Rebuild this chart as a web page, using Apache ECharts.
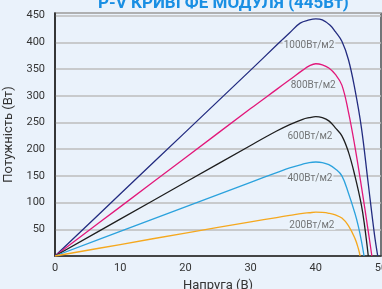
<!DOCTYPE html>
<html><head><meta charset="utf-8">
<script src="https://cdn.jsdelivr.net/npm/echarts@6/dist/echarts.min.js"></script>
<style>html,body{margin:0;padding:0;background:#EAF2FB;}#c{width:382px;height:289px;}</style>
</head><body><div id="c"></div>
<script>
var xTicks = [0, 10, 20, 30, 40, 50];
var yTicks = [50, 100, 150, 200, 250, 300, 350, 400, 450];
var names = ['1000Вт/м2', '800Вт/м2', '600Вт/м2', '400Вт/м2', '200Вт/м2'];
var colors = ['#232C80', '#E2187A', '#1E1E1E', '#2BA2DD', '#F5A81E'];

var v1000 = [0, 10, 20, 30, 34, 36, 37.6, 39, 40, 41, 42.2, 43, 44, 45, 46, 47, 48, 49, 49.5];
var p1000 = [0, 116, 232, 348, 395, 418, 436, 442, 444, 442, 432, 420, 402, 368, 312, 240, 140, 40, 0];
var v800 = [0, 10, 20, 30, 34, 36, 38, 39, 40, 41, 42, 43, 44, 45, 46, 47, 48, 48.6];
var p800 = [0, 92, 184, 276, 312, 330, 348, 356, 360, 358, 352, 340, 320, 270, 205, 130, 50, 0];
var v600 = [0, 10, 20, 30, 34, 36, 38, 39, 40, 41, 42, 43, 44, 45, 46, 47, 47.5, 48.05];
var p600 = [0, 69, 138, 207, 234, 246, 256, 259, 261, 259, 253, 240, 225, 195, 150, 95, 55, 0];
var v400 = [0, 10, 20, 30, 34, 36, 38, 39, 40, 41, 42, 43, 44, 45, 46, 46.5, 47, 47.4];
var p400 = [0, 46, 92, 138, 156, 165, 172, 175, 176, 175, 171, 163, 150, 118, 80, 57, 28, 0];
var v200 = [0, 10, 20, 30, 34, 36, 38, 39, 40, 41, 42, 43, 44, 45, 46, 46.5, 46.8];
var p200 = [0, 21.5, 43, 64, 72, 76, 80, 81, 82, 81.5, 80, 77, 71, 57, 33, 15, 0];

var labelV = [38.96, 39.6, 39.1, 39.1, 39.4];
var labelP = [395, 319, 223, 146, 58];

function pairs(v, p) { return v.map(function (x, i) { return [x, p[i]]; }); }
var sets = [pairs(v1000, p1000), pairs(v800, p800), pairs(v600, p600), pairs(v400, p400), pairs(v200, p200)];

var series = sets.map(function (d, i) {
  return {
    type: 'line', data: d, smooth: 0.4, showSymbol: false, symbol: 'none',
    lineStyle: { color: colors[i], width: 1.3 }, z: 3
  };
});
series.push({
  type: 'scatter', symbolSize: 0, z: 4,
  data: labelV.map(function (x, i) { return { value: [x, labelP[i]], name: names[i] }; }),
  label: {
    show: true, position: 'inside', formatter: '{b}', color: '#555',
    fontFamily: 'Roboto', fontSize: 10, backgroundColor: '#EAF2FB', padding: [0, 1]
  }
});

var chart = echarts.init(document.getElementById('c'), null, { renderer: 'canvas' });
chart.setOption({
  backgroundColor: '#EAF2FB',
  animation: false,
  title: {
    text: 'P-V КРИВІ ФЕ МОДУЛЯ (445Вт)', left: 93, top: -10,
    textStyle: { color: '#1A8FE3', fontSize: 17, fontWeight: 'bold', fontFamily: 'Roboto' }
  },
  grid: { left: 55, right: 1, top: 13, bottom: 33, containLabel: false, outerBoundsMode: 'none',
    show: true, borderColor: '#222', borderWidth: 1.2, backgroundColor: 'transparent' },
  xAxis: {
    type: 'value', min: 0, max: 50, interval: 10,
    name: 'Напруга (В)', nameLocation: 'middle', nameGap: 20,
    nameTextStyle: { fontSize: 13, color: '#333', fontFamily: 'Roboto' },
    axisLine: { show: true, lineStyle: { color: '#222', width: 1.5 } },
    axisTick: { show: false },
    splitLine: { show: false },
    axisLabel: {
      color: '#333', fontSize: 11, fontFamily: 'Roboto', margin: 7,
      formatter: function (v) { return xTicks.indexOf(v) >= 0 ? String(v) : ''; }
    }
  },
  yAxis: {
    type: 'value', min: 0, max: 455, interval: 50,
    name: 'Потужність (Вт)', nameLocation: 'middle', nameGap: 36, nameRotate: 90,
    nameTextStyle: { fontSize: 13, color: '#333', fontFamily: 'Roboto' },
    axisLine: { show: true, lineStyle: { color: '#222', width: 1.5 } },
    axisTick: { show: false },
    splitLine: { show: true, lineStyle: { color: '#BDBDBD', width: 1.5 } },
    axisLabel: {
      color: '#333', fontSize: 11, fontFamily: 'Roboto', margin: 10,
      showMinLabel: false,
      formatter: function (v) { return yTicks.indexOf(v) >= 0 ? String(v) : ''; }
    }
  },
  series: series
});
</script></body></html>
